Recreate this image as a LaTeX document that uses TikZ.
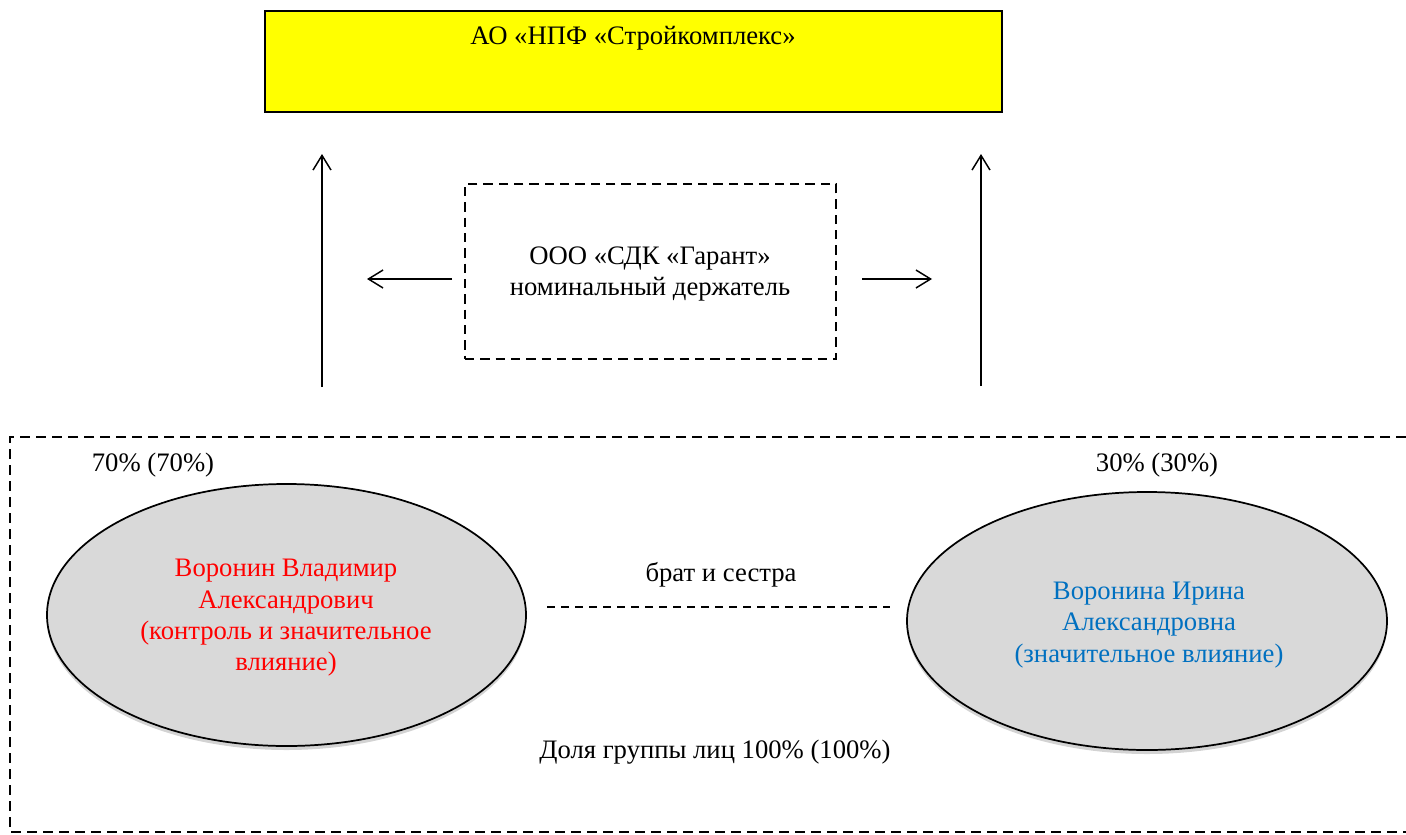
\documentclass[tikz,border=0pt]{standalone}
\usepackage{fontspec}
\setmainfont{Liberation Serif}
\usetikzlibrary{shapes.geometric,arrows.meta,shadows}
\definecolor{boxyellow}{HTML}{FFFF00}
\definecolor{ellgray}{HTML}{D9D9D9}
\definecolor{vred}{HTML}{FF0000}
\definecolor{vblue}{HTML}{0070C0}
\tikzset{
  txt/.style={font=\fontsize{20}{23.5}\selectfont, align=center, inner sep=0pt},
  topbox/.style={draw, line width=1.6pt, fill=boxyellow},
  nomineebox/.style={draw, line width=1.5pt, dash pattern=on 7pt off 4.5pt},
  person/.style={ellipse, draw, line width=1.3pt, fill=ellgray, drop shadow={shadow xshift=0pt, shadow yshift=-3pt, opacity=0.35}},
  arr/.style={line width=1.1pt, -{Straight Barb[length=11pt,width=13.5pt,line width=1.1pt]}},
  groupline/.style={line width=1.4pt, dash pattern=on 7.5pt off 4.5pt},
  sibline/.style={line width=1.1pt, dash pattern=on 6pt off 4.5pt}
}
\begin{document}
\begin{tikzpicture}[x=0.75pt,y=-0.75pt]
\useasboundingbox (0,0) rectangle (1406,835);
% top company
\node[topbox, minimum width=737*0.75pt, minimum height=101*0.75pt, inner sep=0pt] (ao) at (633.5,61.5) {};
\node[txt] (aot) at (633,38) {АО «НПФ «Стройкомплекс»};
% nominee
\node[nomineebox, minimum width=371*0.75pt, minimum height=175*0.75pt, inner sep=0pt] (nom) at (650.5,271.5) {};
\node[txt] (nomt) at (650,274) {ООО «СДК «Гарант»\\номинальный держатель};
% vertical arrows
\coordinate (la0) at (322,387);
\coordinate (la1) at (322,154);
\coordinate (ra0) at (981,386);
\coordinate (ra1) at (981,154);
\draw[arr] (la0) -- (la1);
\draw[arr] (ra0) -- (ra1);
% horizontal arrows
\coordinate (hl0) at (452,279);
\coordinate (hl1) at (367,279);
\coordinate (hr0) at (862,279);
\coordinate (hr1) at (932,279);
\draw[arr] (hl0) -- (hl1);
\draw[arr] (hr0) -- (hr1);
% group frame
\coordinate (g1) at (1406,437);
\coordinate (g2) at (10,437);
\coordinate (g3) at (10,832);
\coordinate (g4) at (1406,832);
\draw[groupline] (g1) -- (g2) -- (g3) -- (g4);
% percentages
\node[txt] (p70) at (153,465) {70\% (70\%)};
\node[txt] (p30) at (1157,465) {30\% (30\%)};
% persons
\node[person, minimum width=479*0.75pt, minimum height=262*0.75pt, inner sep=0pt] (vv) at (286.5,615) {};
\node[txt, text=vred] (vvt) at (286,618) {Воронин Владимир\\Александрович\\(контроль и значительное\\влияние)};
\node[person, minimum width=480*0.75pt, minimum height=258*0.75pt, inner sep=0pt] (vi) at (1147,621) {};
\node[txt, text=vblue] (vit) at (1149,625) {Воронина Ирина\\Александровна\\(значительное влияние)};
% sibling relation
\node[txt] (sib) at (721,575) {брат и сестра};
\coordinate (s0) at (547,607);
\coordinate (s1) at (890,607);
\draw[sibline] (s0) -- (s1);
% group share
\node[txt] (share) at (715,752) {Доля группы лиц 100\% (100\%)};
\end{tikzpicture}
\end{document}
